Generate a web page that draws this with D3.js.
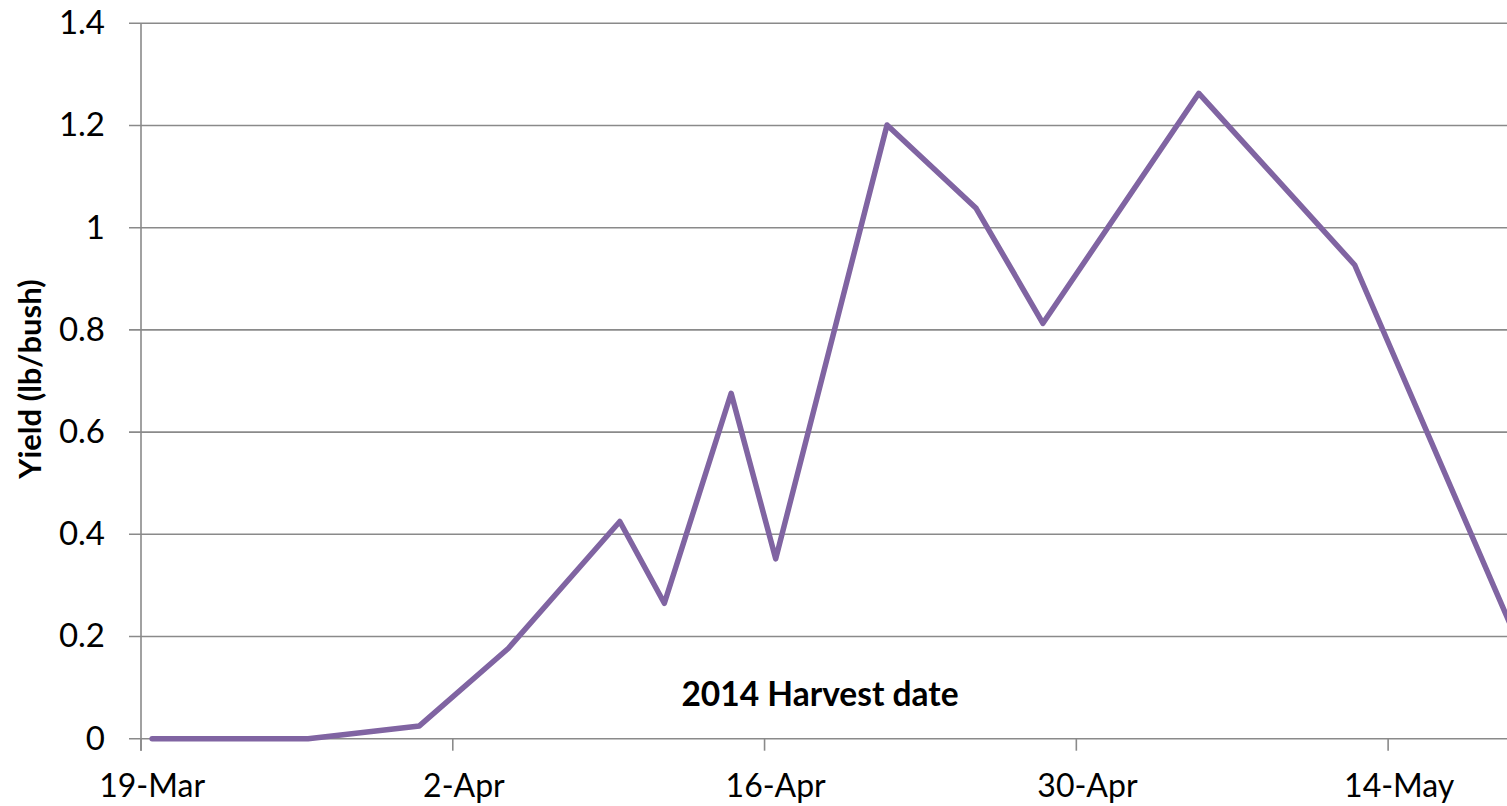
<!DOCTYPE html>
<html>
<head>
<meta charset="utf-8">
<script src="https://cdn.jsdelivr.net/npm/d3@7"></script>
<style>
  html, body { margin: 0; padding: 0; background: #fff; }
  svg { display: block; font-family: Lato, "Open Sans", sans-serif; }
</style>
</head>
<body>
<div id="chart"></div>
<script>
// harvest dates (2014) and yield per bush
const harvestDates = ['2014-03-19', '2014-03-26', '2014-03-31', '2014-04-04', '2014-04-09', '2014-04-11',
    '2014-04-14', '2014-04-16', '2014-04-21', '2014-04-25', '2014-04-28', '2014-05-05', '2014-05-12', '2014-05-19'];
const yieldValues = [0, 0, 0.025, 0.177, 0.425, 0.265, 0.676, 0.352, 1.201, 1.038, 0.813, 1.263, 0.927, 0.222];
const yTicks = [0, 0.2, 0.4, 0.6, 0.8, 1, 1.2, 1.4];
const xTickDates = ['2014-03-19', '2014-04-02', '2014-04-16', '2014-04-30', '2014-05-14'];
const xAxisTitle = '2014 Harvest date';
const yAxisTitle = 'Yield (lb/bush)';

const W = 1507, H = 806;
const margin = { left: 141, top: 23.3 };
const parse = d3.timeParse('%Y-%m-%d');
const fmt = d3.timeFormat('%-d-%b');
const noon = d => d3.timeHour.offset(d, 12);

const svg = d3.select('#chart').append('svg')
    .attr('width', W)
    .attr('height', H);

// axis range runs past the right edge, like the cropped original
const x = d3.scaleTime()
    .domain([parse('2014-03-19'), parse('2014-05-21')])
    .range([0, 63 * 22.27]);
const y = d3.scaleLinear().domain([0, 1.4]).range([715.4, 0]);

svg.append('clipPath').attr('id', 'clip')
    .append('rect').attr('x', 0).attr('y', -20).attr('width', W - margin.left).attr('height', 760);

const g = svg.append('g').attr('transform', `translate(${margin.left},${margin.top})`);

// gridlines
g.append('g').selectAll('line')
    .data(yTicks)
    .join('line')
    .attr('x1', -12).attr('x2', W - margin.left)
    .attr('y1', d => y(d)).attr('y2', d => y(d))
    .attr('stroke', '#8a8a8a').attr('stroke-width', 1.6);

// y tick labels
g.append('g').selectAll('text')
    .data(yTicks)
    .join('text')
    .attr('x', -36)
    .attr('y', d => y(d) + 11)
    .attr('text-anchor', 'end')
    .style('font-size', '33px')
    .style('fill', '#000')
    .text(d => d);

// y axis line
g.append('line')
    .attr('x1', 0).attr('x2', 0)
    .attr('y1', y(1.4)).attr('y2', y(0) + 12)
    .attr('stroke', '#8a8a8a').attr('stroke-width', 1.6);

// x ticks
const xt = xTickDates.map(parse);
g.append('g').selectAll('line')
    .data(xt)
    .join('line')
    .attr('x1', d => x(d)).attr('x2', d => x(d))
    .attr('y1', y(0)).attr('y2', y(0) + 12)
    .attr('stroke', '#8a8a8a').attr('stroke-width', 1.6);

g.append('g').selectAll('text')
    .data(xt)
    .join('text')
    .attr('x', d => x(noon(d)))
    .attr('y', y(0) + 58)
    .attr('text-anchor', 'middle')
    .style('font-size', '32px')
    .style('fill', '#000')
    .text(d => fmt(d));

// series line
const pts = harvestDates.map((d, i) => ({ date: noon(parse(d)), value: yieldValues[i] }));
const line = d3.line().x(d => x(d.date)).y(d => y(d.value));

g.append('path')
    .datum(pts)
    .attr('clip-path', 'url(#clip)')
    .attr('d', line)
    .attr('fill', 'none')
    .attr('stroke', '#8064a2')
    .attr('stroke-width', 5.5)
    .attr('stroke-linejoin', 'round')
    .attr('stroke-linecap', 'round');

// titles
svg.append('text')
    .attr('x', 820)
    .attr('y', 706)
    .attr('text-anchor', 'middle')
    .style('font-size', '33.5px')
    .style('font-weight', 'bold')
    .style('fill', '#000')
    .text(xAxisTitle);

svg.append('text')
    .attr('transform', 'translate(41,379) rotate(-90)')
    .attr('text-anchor', 'middle')
    .style('font-size', '31px')
    .style('font-weight', 'bold')
    .style('fill', '#000')
    .text(yAxisTitle);
</script>
</body>
</html>
